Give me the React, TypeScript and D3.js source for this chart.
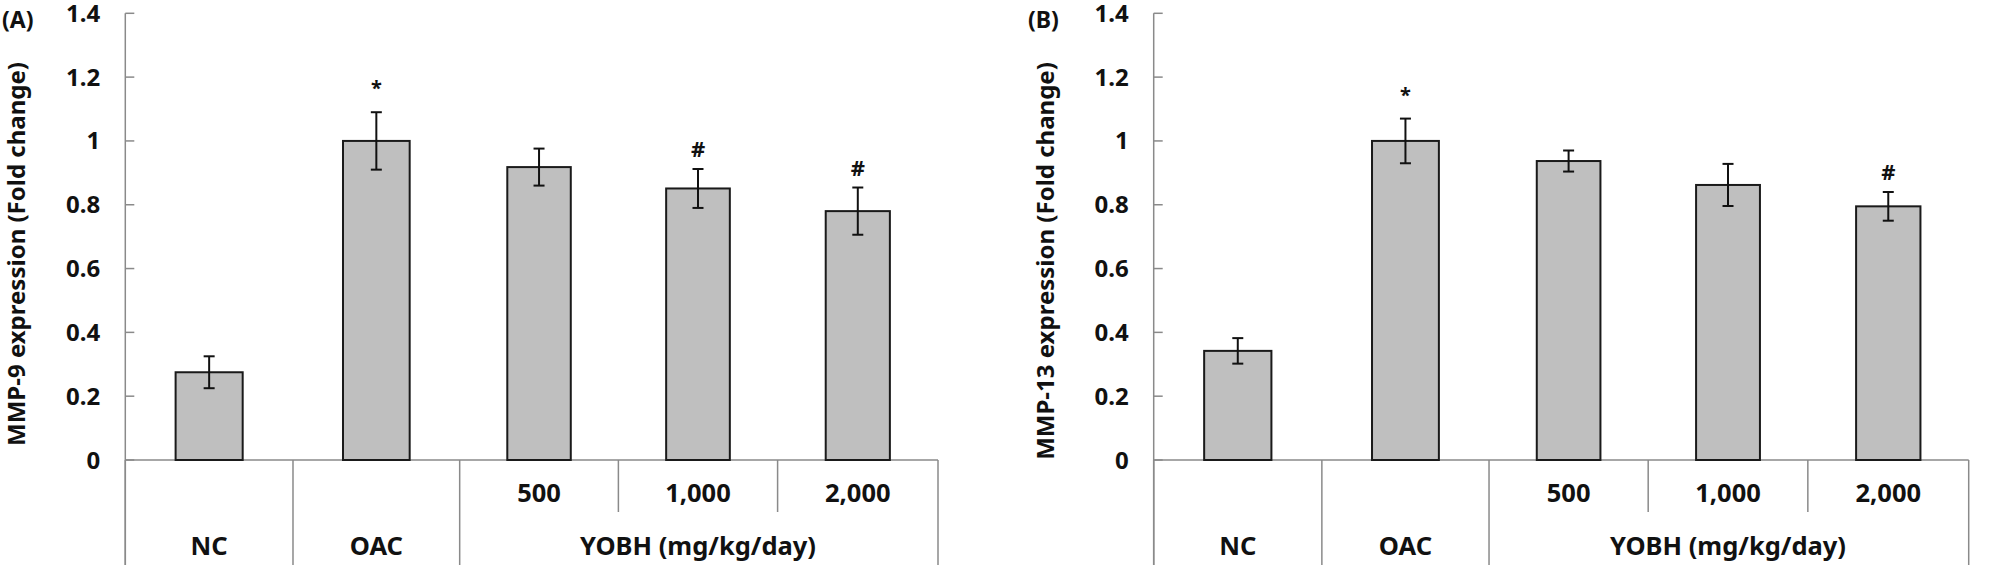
import React from 'react';
import * as d3 from 'd3';

// ---- data ----
const categories = ['NC', 'OAC', '500', '1,000', '2,000'];
const lowerLabels = ['NC', 'OAC'];
const doseLabels = ['500', '1,000', '2,000'];
const groupLabel = 'YOBH (mg/kg/day)';
const yTicks = [0, 0.2, 0.4, 0.6, 0.8, 1, 1.2, 1.4];
const yTickLabels = ['0', '0.2', '0.4', '0.6', '0.8', '1', '1.2', '1.4'];

const mmp9Values = [0.275, 1.0, 0.918, 0.851, 0.78];
const mmp9Errors = [0.05, 0.09, 0.058, 0.061, 0.074];
const mmp9Marks = ['', '*', '', '#', '#'];

const mmp13Values = [0.342, 1.0, 0.937, 0.862, 0.795];
const mmp13Errors = [0.04, 0.07, 0.033, 0.066, 0.045];
const mmp13Marks = ['', '*', '', '', '#'];

// ---- layout ----
const W = 1994;
const H = 567;
const Y0 = 460;
const YTOP = 13.3;
const CAT_WEIGHTS = [168, 167, 159, 159.5, 160.7];
const FONT = '"Noto Sans", "Open Sans", sans-serif';
const AXIS_COLOR = '#8a8a8a';

type PanelProps = {
  axisX: number;
  rightX: number;
  tag: string;
  tagX: number;
  title: string;
  titleX: number;
  titleY: number;
  values: number[];
  errors: number[];
  marks: string[];
};

function Panel({ axisX, rightX, tag, tagX, title, titleX, titleY, values, errors, marks }: PanelProps) {
  const y = d3.scaleLinear().domain([0, 1.4]).range([Y0, YTOP]);
  const edgesW = [0, ...Array.from(d3.cumsum(CAT_WEIGHTS))];
  const xe = d3.scaleLinear().domain([0, edgesW[edgesW.length - 1]]).range([axisX, rightX]);
  const edges = edgesW.map((e) => xe(e));
  const center = (i: number) => (edges[i] + edges[i + 1]) / 2;
  const bw = (i: number) => (edges[i + 1] - edges[i]) * 0.4;
  const bottom = H - 2;

  return (
    <g>
      <text x={tagX} y={28} fontFamily={FONT} fontWeight={700} fontSize={23} fill="#111">{tag}</text>
      <text
        transform={`translate(${titleX},${titleY}) rotate(-90)`}
        textAnchor="middle"
        fontFamily={FONT}
        fontWeight={700}
        fontSize={24}
        fill="#111"
      >
        {title}
      </text>
      {/* y axis */}
      <line x1={axisX} x2={axisX} y1={YTOP} y2={bottom} stroke={AXIS_COLOR} strokeWidth={1.5} />
      {yTicks.map((t, i) => (
        <g key={t}>
          <line x1={axisX} x2={axisX + 9} y1={y(t)} y2={y(t)} stroke={AXIS_COLOR} strokeWidth={1.5} />
          <text
            x={axisX - 25}
            y={y(t) + 8.5}
            textAnchor="end"
            fontFamily={FONT}
            fontWeight={700}
            fontSize={24}
            fill="#111"
          >
            {yTickLabels[i]}
          </text>
        </g>
      ))}
      {/* x axis */}
      <line x1={axisX} x2={rightX} y1={Y0} y2={Y0} stroke={AXIS_COLOR} strokeWidth={1.5} />
      {edges.map((e, i) => {
        const inner = i === 3 || i === 4;
        return (
          <line key={i} x1={e} x2={e} y1={Y0} y2={inner ? 512 : bottom} stroke={AXIS_COLOR} strokeWidth={1.5} />
        );
      })}
      {/* bars */}
      {values.map((v, i) => (
        <rect
          key={categories[i]}
          x={center(i) - bw(i) / 2}
          y={y(v)}
          width={bw(i)}
          height={Y0 - y(v)}
          fill="#bfbfbf"
          stroke="#1a1a1a"
          strokeWidth={2}
        />
      ))}
      {/* error bars */}
      {values.map((v, i) => {
        const cx = center(i);
        const hi = y(v + errors[i]);
        const lo = y(v - errors[i]);
        return (
          <g key={`e${i}`} stroke="#111" strokeWidth={2}>
            <line x1={cx} x2={cx} y1={hi} y2={lo} />
            <line x1={cx - 5.5} x2={cx + 5.5} y1={hi} y2={hi} />
            <line x1={cx - 5.5} x2={cx + 5.5} y1={lo} y2={lo} />
          </g>
        );
      })}
      {/* significance marks */}
      {values.map((v, i) =>
        marks[i] ? (
          <text
            key={`m${i}`}
            x={center(i)}
            y={y(v + errors[i]) - (marks[i] === '*' ? 17 : 12)}
            textAnchor="middle"
            fontFamily={FONT}
            fontWeight={700}
            fontSize={marks[i] === '*' ? 20 : 22}
            fill="#111"
          >
            {marks[i]}
          </text>
        ) : null
      )}
      {/* category labels */}
      {lowerLabels.map((l, i) => (
        <text key={l} x={center(i)} y={555} textAnchor="middle" fontFamily={FONT} fontWeight={700} fontSize={25.5} fill="#111">
          {l}
        </text>
      ))}
      {doseLabels.map((l, j) => (
        <text key={l} x={center(j + 2)} y={502} textAnchor="middle" fontFamily={FONT} fontWeight={700} fontSize={25.5} fill="#111">
          {l}
        </text>
      ))}
      <text x={center(3)} y={555} textAnchor="middle" fontFamily={FONT} fontWeight={700} fontSize={25.5} fill="#111">
        {groupLabel}
      </text>
    </g>
  );
}

export default function App() {
  return (
    <svg width={W} height={H} style={{ position: 'absolute', left: 0, top: 0, background: '#fff' }}>
      <rect width={W} height={H} fill="#fff" />
      <Panel
        axisX={125.3}
        rightX={938}
        tag="(A)"
        tagX={2}
        title="MMP-9 expression (Fold change)"
        titleX={25}
        titleY={254}
        values={mmp9Values}
        errors={mmp9Errors}
        marks={mmp9Marks}
      />
      <Panel
        axisX={1153.7}
        rightX={1968.7}
        tag="(B)"
        tagX={1028}
        title="MMP-13 expression (Fold change)"
        titleX={1054}
        titleY={261}
        values={mmp13Values}
        errors={mmp13Errors}
        marks={mmp13Marks}
      />
    </svg>
  );
}
